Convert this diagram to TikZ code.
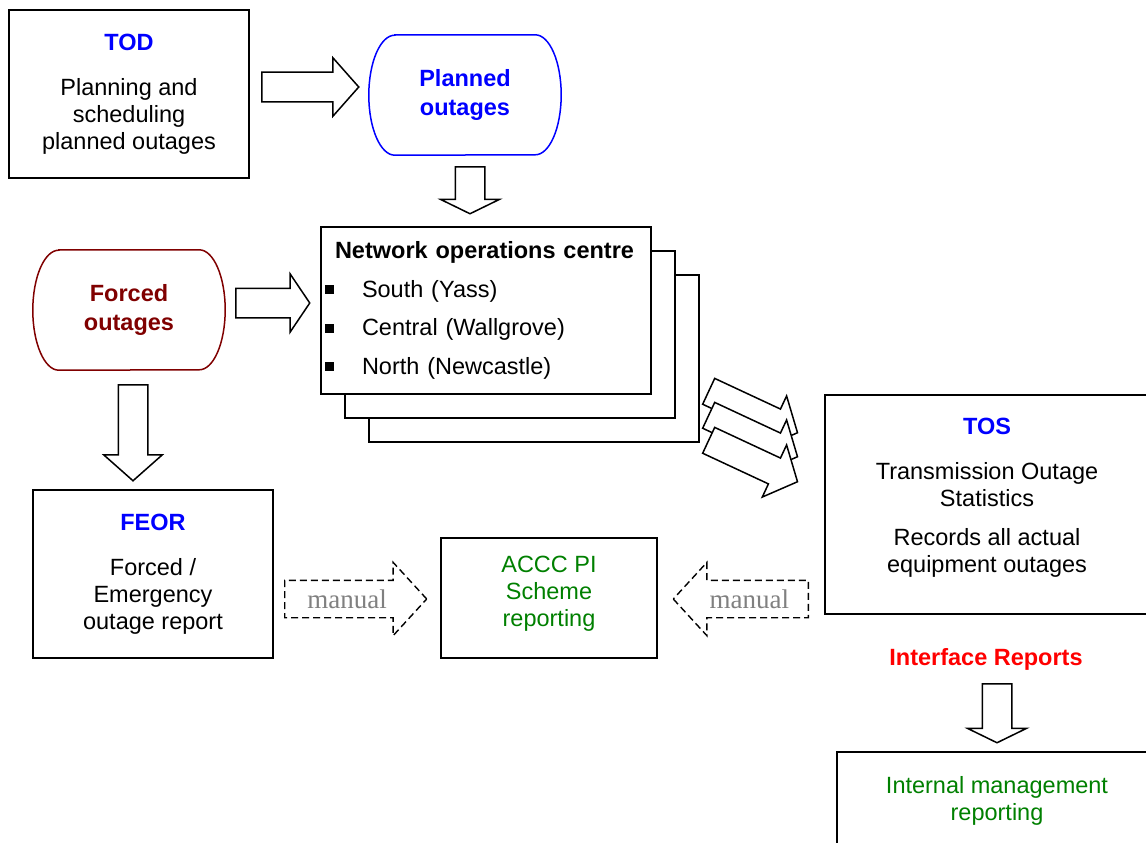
\documentclass[tikz,border=0pt]{standalone}
\usepackage{fontspec}
\setmainfont{Liberation Sans}
\newfontfamily\manualfont{Liberation Serif}
\usetikzlibrary{positioning,shapes.arrows,calc}
\definecolor{hdblue}{RGB}{0,0,255}
\definecolor{forced}{RGB}{128,0,0}
\definecolor{rptgreen}{RGB}{0,128,0}
\definecolor{ifred}{RGB}{255,0,0}
\definecolor{manualgray}{RGB}{128,128,128}
\newcommand\nocbullet{\raisebox{3pt}{\rule{9pt}{9pt}}\hspace{28pt}}
% outline with elliptic ends round a store node
\newcommand\storeoutline[2]{%
  \draw[#2, line width=1.5pt] ([xshift=26pt]#1.north west) -- ([xshift=-26pt]#1.north east)
    arc[start angle=90, end angle=-90, x radius=26pt, y radius=60pt]
    -- ([xshift=26pt]#1.south west)
    arc[start angle=270, end angle=90, x radius=26pt, y radius=60pt] -- cycle;}

\begin{document}
\begin{tikzpicture}[
    x=1pt, y=-1pt,
    txt/.style={font=\fontsize{23.5}{27}\selectfont},
    box/.style={draw, line width=1.5pt, fill=white, align=center, inner sep=0pt, txt},
    store/.style={minimum width=192pt, minimum height=120pt, inner sep=0pt, align=center,
        font=\fontsize{23.5}{29}\selectfont\bfseries},
    fatarrow/.style={single arrow, draw, fill=white, line width=1.5pt, anchor=tail, inner xsep=0pt,
        inner ysep=14pt, single arrow head extend=14.5pt, single arrow tip angle=97, minimum height=#1},
    flathead/.style={single arrow tip angle=128},
    manualarrow/.style={single arrow, draw, dash pattern=on 7pt off 4pt, line width=1.4pt, anchor=tail,
        inner xsep=4pt, inner ysep=9pt, text height=18pt, text depth=0pt, single arrow head extend=18pt,
        single arrow tip angle=95, minimum height=#1, text=manualgray, font=\fontsize{27}{30}\manualfont}
]
    \fill[white] (0,0) rectangle (1146,843);
    \useasboundingbox (0,0) rectangle (1146,843);
    \clip (0,0) rectangle (1146,843);

    % planning side
    \node[box, minimum width=240pt, minimum height=168pt] (tod) at (129,94)
        {{\bfseries\color{hdblue}TOD}\\[18pt]Planning and\\scheduling\\planned outages};
    \node[store, text=hdblue] (planned) at (465,95) {Planned\\outages};
    \storeoutline{planned}{hdblue}
    \node[store, text=forced] (forced) at (129,310) {Forced\\outages};
    \storeoutline{forced}{forced}

    % operations centres (stacked)
    \node[box, minimum width=330pt, minimum height=167pt] (noc3) at (534,358.5) {};
    \node[box, minimum width=330pt, minimum height=167pt] (noc2) at (510,334.5) {};
    \node[box, minimum width=330pt, minimum height=167pt, text width=322pt, align=left,
        font=\fontsize{23.5}{38.5}\selectfont] (noc) at (486,310.5)
        {\hspace*{10pt}{\bfseries Network operations centre}\\
         \nocbullet South (Yass)\\
         \nocbullet Central (Wallgrove)\\
         \nocbullet North (Newcastle)};

    % reporting
    \node[box, minimum width=240pt, minimum height=168pt] (feor) at (153,574)
        {{\bfseries\color{hdblue}FEOR}\\[18pt]Forced /\\Emergency\\outage report};
    \node[box, minimum width=216pt, minimum height=120pt, text=rptgreen] (accc) at (549,598)
        {ACCC PI\\Scheme\\reporting\rule[-13pt]{0pt}{1pt}};
    \node[box, minimum width=324pt, minimum height=219pt] (tos) at (987,504.5)
        {{\bfseries\color{hdblue}TOS}\\[18pt]Transmission Outage\\Statistics\\[12pt]Records all actual\\equipment outages\rule[-19pt]{0pt}{1pt}};
    \node[txt, font=\fontsize{23.5}{27}\selectfont\bfseries, text=ifred] (ifrep) at (986,659) {Interface Reports};
    \node[box, minimum width=320pt, minimum height=98pt, text=rptgreen] (imr) at (997,801)
        {Internal management\\reporting};

    % block arrows
    \node[fatarrow=97] (todarr) at (261,87) {};
    \node[fatarrow=47, flathead, rotate=-90] (planarr) at (470,166) {};
    \node[fatarrow=74, single arrow tip angle=112] (forcedarr) at (235,303) {};
    \node[fatarrow=96, rotate=-90] (forceddown) at (133,384) {};
    \foreach \dy/\nm in {0/a,24/b,49/c}
        \node[fatarrow=98, inner ysep=13.5pt, rotate=-25] (nocarr\nm) at (708,391+\dy) {};
    \node[fatarrow=59, flathead, rotate=-90] (ifarr) at (997,683) {};

    % manual transfers
    \node[manualarrow=142] (feorman) at (284,599) {manual};
    \node[manualarrow=135, shape border rotate=180] (tosman) at (809,599) {manual};
\end{tikzpicture}
\end{document}
